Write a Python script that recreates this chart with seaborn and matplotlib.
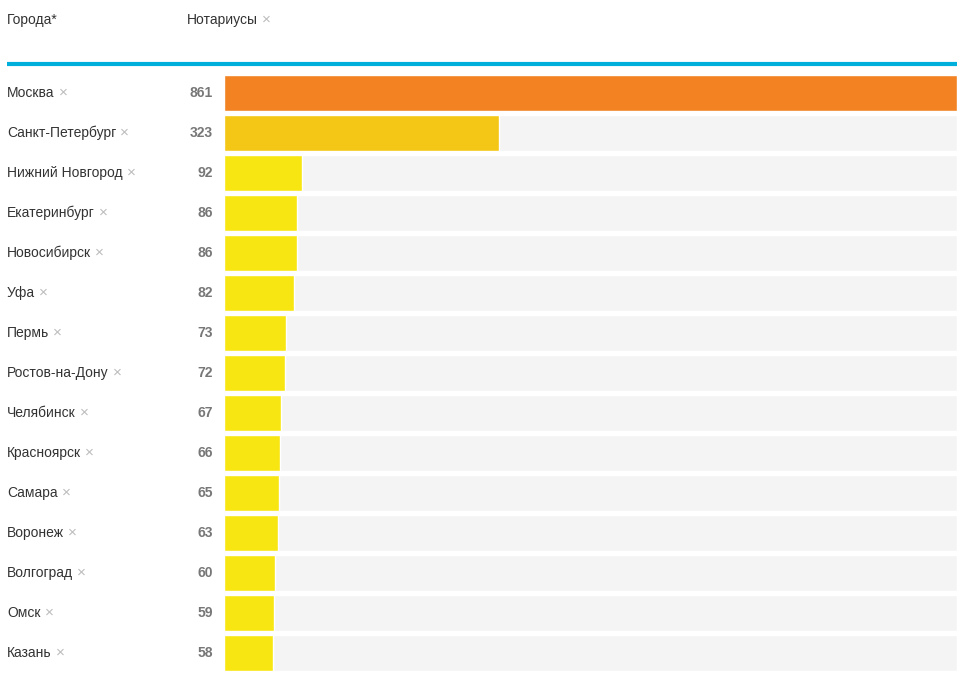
import matplotlib.pyplot as plt
import matplotlib.transforms as mtransforms
import pandas as pd
import seaborn as sns

cities = ["Москва", "Санкт-Петербург", "Нижний Новгород", "Екатеринбург",
          "Новосибирск", "Уфа", "Пермь", "Ростов-на-Дону", "Челябинск",
          "Красноярск", "Самара", "Воронеж", "Волгоград", "Омск", "Казань"]
notaries = [861, 323, 92, 86, 86, 82, 73, 72, 67, 66, 65, 63, 60, 59, 58]
bar_colors = ["#F28222", "#F4C615"] + ["#F7E611"] * 13

df = pd.DataFrame({"city": cities, "value": notaries})
df["full"] = max(notaries)

sns.set_style("white")
plt.rcParams["font.family"] = ["Liberation Sans", "DejaVu Sans"]

W, H = 963, 687
fig = plt.figure(figsize=(W / 100, H / 100), dpi=100)
ax = fig.add_axes([224 / W, 1 - 673 / H, 733 / W, 600 / H])

# grey track behind every bar
sns.barplot(data=df, y="city", x="full", color="#F4F4F4", width=0.9,
            saturation=1, ax=ax)
sns.barplot(data=df, y="city", x="value", hue="city", palette=bar_colors,
            width=0.9, saturation=1, legend=False, ax=ax)

ax.set_xlim(0, max(notaries))
ax.set_ylim(len(cities) - 0.5, -0.5)
ax.axis("off")

fs = 10
trans = mtransforms.blended_transform_factory(fig.transFigure, ax.transData)
name_objs = []
for i, (c, v) in enumerate(zip(cities, notaries)):
    t = ax.text(7 / W, i, c, transform=trans, ha="left", va="center",
                fontsize=fs, color="#333333")
    name_objs.append(t)
    ax.text(213 / W, i, str(v), transform=trans, ha="right", va="center",
            fontsize=fs, color="#777777", fontweight="bold")

# header
fig.text(7 / W, 1 - 20 / H, "Города*", ha="left", va="center",
         fontsize=fs, color="#333333")
head = fig.text(187 / W, 1 - 20 / H, "Нотариусы", ha="left", va="center",
                fontsize=fs, color="#333333")
fig.add_artist(plt.Line2D([7 / W, 957 / W], [1 - 64 / H, 1 - 64 / H],
                          color="#00B0DC", linewidth=3, solid_capstyle="butt"))

# little grey crosses after names
fig.canvas.draw()
renderer = fig.canvas.get_renderer()
for t in name_objs + [head]:
    bb = t.get_window_extent(renderer)
    fig.text((bb.x1 + 4) / W, (bb.y0 + bb.y1) / 2 / H, "×", ha="left",
             va="center", fontsize=fs + 1, color="#BBBBBB")

fig.savefig("out.png", dpi=100)
